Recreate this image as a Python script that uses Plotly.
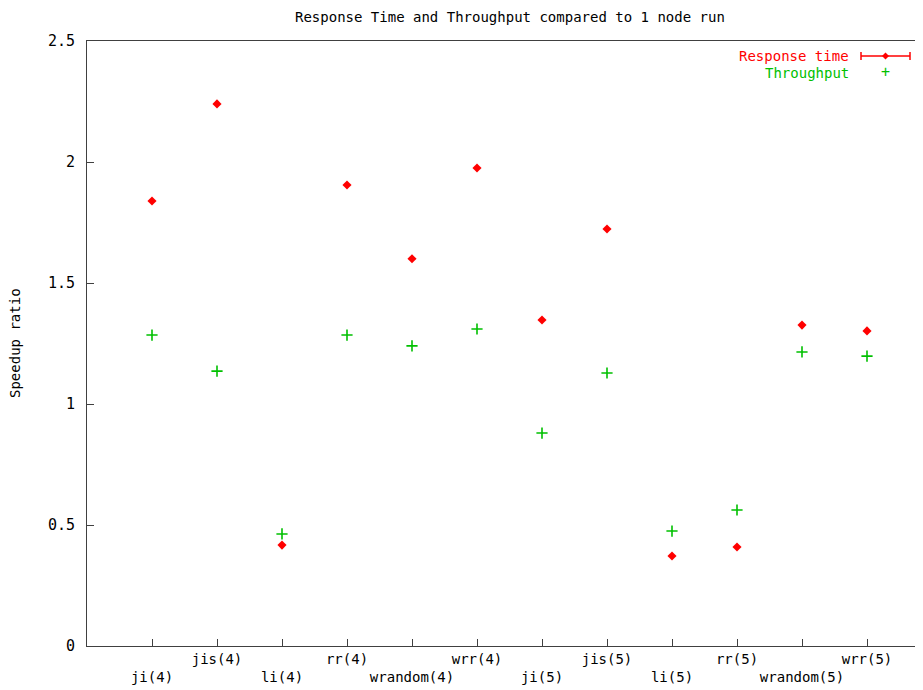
import plotly.graph_objects as go

categories = ["ji(4)", "jis(4)", "li(4)", "rr(4)", "wrandom(4)", "wrr(4)",
              "ji(5)", "jis(5)", "li(5)", "rr(5)", "wrandom(5)", "wrr(5)"]
response_time = [1.839, 2.240, 0.417, 1.905, 1.600, 1.975,
                 1.347, 1.723, 0.372, 0.409, 1.326, 1.302]
throughput = [1.285, 1.136, 0.463, 1.285, 1.240, 1.310,
              0.880, 1.128, 0.475, 0.562, 1.215, 1.198]
y_ticks = [0, 0.5, 1, 1.5, 2, 2.5]
y_tick_labels = ["0", "0.5", "1", "1.5", "2", "2.5"]

positions = list(range(1, len(categories) + 1))
tick_text = [("<br>" + c) if i % 2 == 0 else c for i, c in enumerate(categories)]

RED = "#ff0000"
GREEN = "#00c000"
AXIS = "#404040"
FONT = "DejaVu Sans Mono"

fig = go.Figure()
fig.add_trace(go.Scatter(
    x=positions, y=response_time, mode="markers", name="Response time",
    marker=dict(symbol="diamond", size=7, color=RED, line=dict(width=0)),
))
fig.add_trace(go.Scatter(
    x=positions, y=throughput, mode="markers", name="Throughput",
    marker=dict(symbol="cross-thin", size=8, color=GREEN,
                line=dict(width=1.6, color=GREEN)),
))

OFF = 8  # default page body margin
W, H = 923 - OFF, 690 - OFF
L, R, T, B = 87 - OFF, 0, 41 - OFF, 44
pw = W - L - R
ph = H - T - B

def px_x(x):
    return (x - OFF - L) / pw

def px_y(y):
    return 1 - (y - OFF - T) / ph

fig.update_layout(
    width=W, height=H,
    margin=dict(l=L, r=R, t=T, b=B, pad=0),
    plot_bgcolor="white", paper_bgcolor="white",
    showlegend=False,
    font=dict(family=FONT, size=15, color="black"),
    xaxis=dict(
        range=[0, pw / 65.0], tickmode="array", tickvals=positions,
        ticktext=tick_text, ticks="inside", ticklen=7, tickcolor=AXIS,
        showline=True, linecolor=AXIS, linewidth=1, mirror=True,
        showgrid=False, zeroline=False, tickangle=0,
        tickfont=dict(family=FONT, size=14, color="black"),
    ),
    yaxis=dict(
        range=[0, 2.5], tickmode="array", tickvals=y_ticks,
        ticktext=y_tick_labels, ticks="inside", ticklen=7, tickcolor=AXIS,
        showline=True, linecolor=AXIS, linewidth=1, mirror=False,
        showgrid=False, zeroline=False, ticklabelstandoff=8,
        tickfont=dict(family=FONT, size=15, color="black"),
    ),
)

fig.add_annotation(text="Response Time and Throughput compared to 1 node run",
                   xref="paper", yref="paper", x=px_x(510), y=px_y(8),
                   xanchor="center", yanchor="top", showarrow=False,
                   borderpad=0,
                   font=dict(family=FONT, size=14, color="black"))
fig.add_annotation(text="Speedup ratio", xref="paper", yref="paper",
                   x=px_x(15), y=px_y(343), textangle=-90,
                   xanchor="center", yanchor="middle", showarrow=False,
                   font=dict(family=FONT, size=14, color="black"))

# manual legend (gnuplot style: text then sample)
fig.add_annotation(text="Response time", xref="paper", yref="paper",
                   x=px_x(850), y=px_y(56), xanchor="right", yanchor="middle",
                   showarrow=False, borderpad=0,
                   font=dict(family=FONT, size=14, color=RED))
fig.add_annotation(text="Throughput", xref="paper", yref="paper",
                   x=px_x(850), y=px_y(73), xanchor="right", yanchor="middle",
                   showarrow=False, borderpad=0,
                   font=dict(family=FONT, size=14, color=GREEN))
fig.add_shape(type="line", xref="paper", yref="paper",
              x0=px_x(861), x1=px_x(910), y0=px_y(56), y1=px_y(56),
              line=dict(color=RED, width=1.5))
for xx in (861, 910):
    fig.add_shape(type="line", xref="paper", yref="paper",
                  x0=px_x(xx), x1=px_x(xx), y0=px_y(52), y1=px_y(60),
                  line=dict(color=RED, width=1.5))
fig.add_shape(type="path", xref="paper", yref="paper",
              path=(f"M {px_x(885.5)} {px_y(52.5)} L {px_x(889)} {px_y(56)} "
                    f"L {px_x(885.5)} {px_y(59.5)} L {px_x(882)} {px_y(56)} Z"),
              fillcolor=RED, line=dict(color=RED, width=0))
fig.add_annotation(text="+", xref="paper", yref="paper",
                   x=px_x(885.5), y=px_y(72), xanchor="center", yanchor="middle",
                   showarrow=False, borderpad=0,
                   font=dict(family=FONT, size=15, color=GREEN))

fig.write_html("out.html")
